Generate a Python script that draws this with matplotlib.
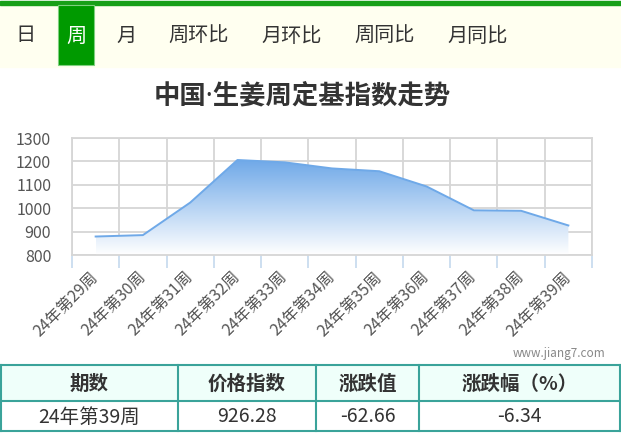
"""Tablero semanal: índice base fija del jengibre (China), semanas 29-39 de 2024."""

import matplotlib
matplotlib.use("Agg")
import matplotlib.pyplot as plt  # noqa: E402
import numpy as np  # noqa: E402
from matplotlib.colors import LinearSegmentedColormap  # noqa: E402
from matplotlib.patches import Rectangle  # noqa: E402

plt.rcParams["font.family"] = ["Noto Sans CJK SC", "DejaVu Sans"]

# ─── Datos ─────────────────────────────────────────────────────────────────

SEMANAS = ["24年第29周", "24年第30周", "24年第31周", "24年第32周", "24年第33周",
           "24年第34周", "24年第35周", "24年第36周", "24年第37周", "24年第38周",
           "24年第39周"]
INDICE = [879, 885, 1024, 1206, 1196, 1170, 1158, 1093, 991, 988.94, 926.28]
Y_TICKS = [800, 900, 1000, 1100, 1200, 1300]

PESTANAS = ["日", "周", "月", "周环比", "月环比", "周同比", "月同比"]
PESTANA_ACTIVA = "周"
TITULO = "中国·生姜周定基指数走势"
MARCA = "www.jiang7.com"

TABLA_CAB = ["期数", "价格指数", "涨跌值", "涨跌幅（%）"]
TABLA_FILA = ["24年第39周", "926.28", "-62.66", "-6.34"]

# ─── Estilo / posiciones (en píxeles de la figura) ─────────────────────────

W, H = 621, 440
PESTANAS_X = [25, 76, 127, 199, 292, 385, 478]
COLS_X = [1, 178, 316, 419, 620]
VERDE = "#009a00"
BORDE_TABLA = "#3aa39a"
GRIS_GRID = "#d6d6d6"
AZUL = "#6fa9e8"


def dibujar_cabecera(bg):
    bg.add_patch(Rectangle((0, 5), W, 62, color="#fffff0", zorder=0))
    bg.add_patch(Rectangle((0, 1.5), W, 4, color="#18a018", zorder=1))
    for txt, x in zip(PESTANAS, PESTANAS_X):
        color = "#333333"
        if txt == PESTANA_ACTIVA:
            bg.add_patch(Rectangle((58, 5.5), 36, 59.5, facecolor=VERDE,
                                   edgecolor="#7fd07f", lw=0.8, zorder=1))
            color = "white"
        bg.text(x, 36, txt, ha="center", va="center", fontsize=14.5,
                color=color, zorder=2)
    # el punto medio en Noto Sans (angosto), el resto cae a la CJK
    bg.text(302, 96, TITULO, ha="center", va="center", fontsize=19,
            fontweight="bold", color="#333333",
            family=["Noto Sans", "Noto Sans CJK SC"])
    bg.text(605, 354, MARCA, ha="right", va="center", fontsize=8.5,
            color="#888888")


def dibujar_tabla(bg):
    top, mid, bot = 365, 401, 431
    bg.add_patch(Rectangle((COLS_X[0], top), COLS_X[-1] - COLS_X[0], mid - top,
                           facecolor="#effffa", edgecolor="none"))
    for y in (top, mid, bot):
        bg.plot([COLS_X[0], COLS_X[-1]], [y, y], color=BORDE_TABLA, lw=1.5)
    for x in COLS_X:
        bg.plot([x, x], [top, bot], color=BORDE_TABLA, lw=1.5)
    for i in range(4):
        xc = (COLS_X[i] + COLS_X[i + 1]) / 2
        bg.text(xc, 384, TABLA_CAB[i], ha="center", va="center", fontsize=14,
                fontweight="bold", color="#333333")
        bg.text(xc, 417, TABLA_FILA[i], ha="center", va="center", fontsize=14,
                color="#333333")


def dibujar_grafico(fig):
    ax = fig.add_axes([72 / W, 1 - 255 / H, 520 / W, 117 / H])
    x = np.arange(len(SEMANAS))
    ax.set_xlim(-0.5, len(SEMANAS) - 0.5)
    ax.set_ylim(Y_TICKS[0], Y_TICKS[-1])

    # relleno en degradado recortado por el área bajo la curva
    area = ax.fill_between(x, INDICE, Y_TICKS[0], facecolor="none",
                           edgecolor="none")
    cmap = LinearSegmentedColormap.from_list("deg", ["#ffffff", "#6ea8e8"])
    grad = np.linspace(0, 1, 256).reshape(-1, 1)
    im = ax.imshow(grad, cmap=cmap, aspect="auto", origin="lower",
                   extent=(x[0], x[-1], Y_TICKS[0], max(INDICE)), zorder=2)
    im.set_clip_path(area.get_paths()[0], transform=ax.transData)
    ax.plot(x, INDICE, color=AZUL, lw=1.4, zorder=3)

    ax.set_yticks(Y_TICKS)
    ax.set_xticks(x)
    ax.set_xticks(np.arange(-0.5, len(SEMANAS)), minor=True)
    ax.set_xticklabels(SEMANAS, rotation=45, ha="right", va="center",
                       rotation_mode="anchor", fontsize=11.5, color="#555555")
    ax.tick_params(axis="x", which="major", length=0, pad=14)
    ax.tick_params(axis="x", which="minor", length=9.5, width=1.2,
                   color="#c5d9ee")
    ax.tick_params(axis="y", length=0, pad=15, labelsize=11.5,
                   labelcolor="#555555")
    ax.grid(axis="y", which="major", color=GRIS_GRID, lw=1.3, zorder=1)
    ax.grid(axis="x", which="minor", color=GRIS_GRID, lw=1.3, zorder=1)
    ax.set_axisbelow(True)
    for lado in ax.spines.values():
        lado.set_color(GRIS_GRID)
        lado.set_linewidth(1.3)
    return ax


def main():
    fig = plt.figure(figsize=(W / 100, H / 100), dpi=100)
    bg = fig.add_axes([0, 0, 1, 1])
    bg.set_xlim(0, W)
    bg.set_ylim(H, 0)
    bg.axis("off")
    dibujar_cabecera(bg)
    dibujar_tabla(bg)
    dibujar_grafico(fig)
    fig.savefig("out.png", dpi=100)
    plt.close(fig)


if __name__ == "__main__":
    main()
